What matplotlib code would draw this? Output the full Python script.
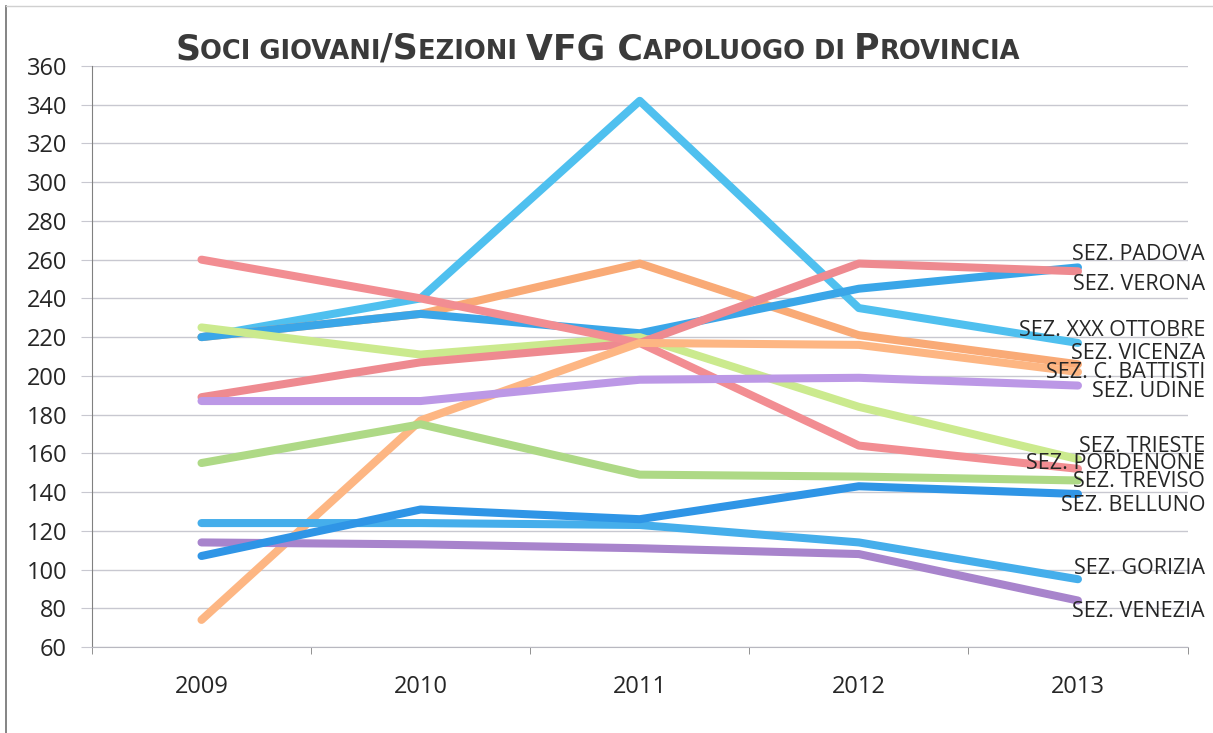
import matplotlib

matplotlib.use("Agg")
import matplotlib.pyplot as plt
from matplotlib.lines import Line2D

years = ["2009", "2010", "2011", "2012", "2013"]

# soci giovani per sezione
padova = [220, 232, 222, 245, 256]
verona = [189, 207, 217, 258, 254]
xxx_ottobre = [220, 240, 342, 235, 217]
vicenza = [220, 232, 258, 221, 206]
c_battisti = [74, 177, 217, 216, 202]
udine = [187, 187, 198, 199, 195]
trieste = [225, 211, 220, 184, 157]
pordenone = [260, 240, 217, 164, 152]
treviso = [155, 175, 149, 148, 146]
belluno = [107, 131, 126, 143, 139]
gorizia = [124, 124, 123, 114, 95]
venezia = [114, 113, 111, 108, 84]

series = [
    ("SEZ. PADOVA", padova),
    ("SEZ. VERONA", verona),
    ("SEZ. XXX OTTOBRE", xxx_ottobre),
    ("SEZ. VICENZA", vicenza),
    ("SEZ. C. BATTISTI", c_battisti),
    ("SEZ. UDINE", udine),
    ("SEZ. TRIESTE", trieste),
    ("SEZ. PORDENONE", pordenone),
    ("SEZ. TREVISO", treviso),
    ("SEZ. BELLUNO", belluno),
    ("SEZ. GORIZIA", gorizia),
    ("SEZ. VENEZIA", venezia),
]

COLORS = {
    "SEZ. PADOVA": "#3aa6e8",
    "SEZ. VERONA": "#ee8a90",
    "SEZ. XXX OTTOBRE": "#4fc0ef",
    "SEZ. VICENZA": "#f9aa76",
    "SEZ. C. BATTISTI": "#fdb683",
    "SEZ. UDINE": "#bc98e6",
    "SEZ. TRIESTE": "#cbea8e",
    "SEZ. PORDENONE": "#f28d92",
    "SEZ. TREVISO": "#aed986",
    "SEZ. BELLUNO": "#2f95e6",
    "SEZ. GORIZIA": "#45aeeb",
    "SEZ. VENEZIA": "#a884cc",
}

# posizione verticale delle etichette a destra (valori dell'asse y)
LABEL_Y = {
    "SEZ. PADOVA": 262.5,
    "SEZ. VERONA": 247,
    "SEZ. XXX OTTOBRE": 223.5,
    "SEZ. VICENZA": 211.5,
    "SEZ. C. BATTISTI": 201.5,
    "SEZ. UDINE": 192,
    "SEZ. TRIESTE": 163.5,
    "SEZ. PORDENONE": 155,
    "SEZ. TREVISO": 145.5,
    "SEZ. BELLUNO": 133,
    "SEZ. GORIZIA": 100.5,
    "SEZ. VENEZIA": 78.5,
}

FONT = ["Open Sans", "DejaVu Sans"]
TEXT_COLOR = "#262626"

fig = plt.figure(figsize=(12.13, 7.33), dpi=100)
ax = fig.add_axes([0.0758, 0.1173, 0.9032, 0.7927])

x = list(range(len(years)))
draw_order = ["SEZ. XXX OTTOBRE", "SEZ. VICENZA", "SEZ. PADOVA", "SEZ. TRIESTE", "SEZ. VERONA",
              "SEZ. PORDENONE", "SEZ. C. BATTISTI", "SEZ. UDINE", "SEZ. TREVISO", "SEZ. GORIZIA",
              "SEZ. VENEZIA", "SEZ. BELLUNO"]
data = dict(series)
for name in draw_order:
    ax.plot(x, data[name], color=COLORS[name], linewidth=5.8, solid_capstyle="round",
            solid_joinstyle="round", zorder=3)

for name, values in series:
    ax.text(len(years) - 0.42, LABEL_Y[name], name, ha="right", va="center", fontsize=15.5,
            family=FONT, color=TEXT_COLOR, zorder=5)

ax.set_xlim(-0.5, len(years) - 0.5)
ax.set_ylim(60, 360)
ax.set_yticks(range(60, 361, 20))
ax.set_xticks(x)
ax.set_xticklabels(years)
ax.set_xticks([i - 0.5 for i in range(len(years) + 1)], minor=True)
ax.tick_params(axis="x", which="major", length=0, pad=20)
ax.tick_params(axis="x", which="minor", length=5, color="#808080", direction="out")
ax.tick_params(axis="y", length=8, color="#c8c8d0", pad=10)
for lab in ax.get_xticklabels() + ax.get_yticklabels():
    lab.set_fontfamily(FONT)
    lab.set_fontsize(17)
    lab.set_color(TEXT_COLOR)

ax.grid(axis="y", color="#c8c8d0", linewidth=1.0, zorder=0)
ax.set_axisbelow(True)
for side in ["top", "right"]:
    ax.spines[side].set_visible(False)
ax.spines["left"].set_color("#808080")
ax.spines["bottom"].set_color("#b8b8c0")

# titolo in maiuscoletto: lettere grandi e piccole su una stessa linea di base
title_parts = [("S", 25), ("OCI GIOVANI", 18.5), ("/S", 25), ("EZIONI ", 18.5), ("VFG C", 25),
               ("APOLUOGO DI ", 18.5), ("P", 25), ("ROVINCIA", 18.5)]
renderer = fig.canvas.get_renderer()
x_px = 175
base_y = 1 - 59 / 733
for text, size in title_parts:
    t = fig.text(x_px / 1213, base_y, text, fontsize=size, fontweight="bold", family="DejaVu Sans",
                 color="#3a3a3a", ha="left", va="baseline")
    x_px += t.get_window_extent(renderer).width

# bordo dell'area del grafico (scansione)
fig.add_artist(Line2D([6 / 1213, 6 / 1213], [0, 1 - 6 / 733], transform=fig.transFigure,
                      color="#707070", linewidth=1.2))
fig.add_artist(Line2D([6 / 1213, 1], [1 - 6 / 733, 1 - 6 / 733], transform=fig.transFigure,
                      color="#d0d0d0", linewidth=1.0))

fig.savefig("out.png", dpi=100)
